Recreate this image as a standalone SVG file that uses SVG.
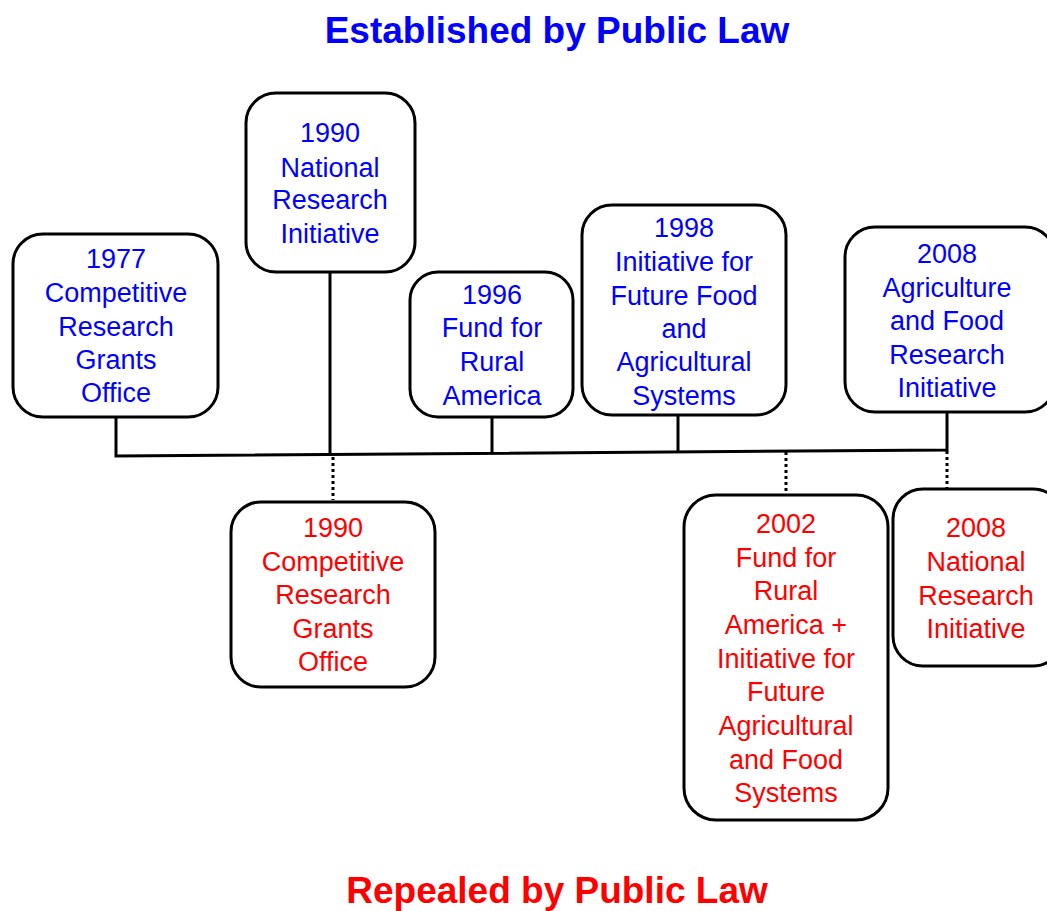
<svg xmlns="http://www.w3.org/2000/svg" width="1047" height="911" viewBox="0 0 1047 911">
<style>
.box{fill:#fff;stroke:#000;stroke-width:3}
.t{font-family:"Liberation Sans",Arial,sans-serif;font-size:27px;text-anchor:middle}
.blue{fill:#0000ff}
.red{fill:#ff0000}
.title{font-family:"Liberation Sans",Arial,sans-serif;font-size:37px;font-weight:bold;text-anchor:middle}
.solid{stroke:#000;stroke-width:3;fill:none}
.dot{stroke:#000;stroke-width:3;fill:none;stroke-dasharray:3 3}
</style>
<rect width="1047" height="911" fill="#fff"/>
<text class="title blue" x="557" y="43">Established by Public Law</text>
<text class="title red" x="557" y="903">Repealed by Public Law</text>
<g id="connectors">
<path class="solid" d="M116,417 V456 L947,450 V412"/>
<path class="solid" d="M330,272 V455"/>
<path class="solid" d="M492,417 V454"/>
<path class="solid" d="M678,415 V453"/>
<path class="dot" d="M333,457 V500"/>
<path class="dot" d="M786,452 V494"/>
<path class="dot" d="M947,451 V488"/>
</g>
<g id="n1977">
<rect class="box" x="13" y="234" width="205" height="183" rx="30"/>
<text class="t blue"><tspan x="116" y="268">1977</tspan><tspan x="116" y="302">Competitive</tspan><tspan x="116" y="336">Research</tspan><tspan x="116" y="369">Grants</tspan><tspan x="116" y="402">Office</tspan></text>
</g>
<g id="n1990nri">
<rect class="box" x="246" y="93" width="169" height="179" rx="30"/>
<text class="t blue"><tspan x="330" y="142">1990</tspan><tspan x="330" y="177">National</tspan><tspan x="330" y="209">Research</tspan><tspan x="330" y="243">Initiative</tspan></text>
</g>
<g id="n1996">
<rect class="box" x="410" y="272" width="163" height="145" rx="28"/>
<text class="t blue"><tspan x="492" y="304">1996</tspan><tspan x="492" y="337">Fund for</tspan><tspan x="492" y="371">Rural</tspan><tspan x="492" y="405">America</tspan></text>
</g>
<g id="n1998">
<rect class="box" x="582" y="205" width="204" height="210" rx="30"/>
<text class="t blue"><tspan x="684" y="237">1998</tspan><tspan x="684" y="271">Initiative for</tspan><tspan x="684" y="305">Future Food</tspan><tspan x="684" y="338">and</tspan><tspan x="684" y="371">Agricultural</tspan><tspan x="684" y="405">Systems</tspan></text>
</g>
<g id="n2008afri">
<rect class="box" x="845" y="227" width="210" height="185" rx="30"/>
<text class="t blue"><tspan x="947" y="263">2008</tspan><tspan x="947" y="297">Agriculture</tspan><tspan x="947" y="330">and Food</tspan><tspan x="947" y="364">Research</tspan><tspan x="947" y="397">Initiative</tspan></text>
</g>
<g id="n1990crgo">
<rect class="box" x="231" y="502" width="204" height="185" rx="30"/>
<text class="t red"><tspan x="333" y="537">1990</tspan><tspan x="333" y="571">Competitive</tspan><tspan x="333" y="604">Research</tspan><tspan x="333" y="638">Grants</tspan><tspan x="333" y="671">Office</tspan></text>
</g>
<g id="n2002">
<rect class="box" x="684" y="495" width="204" height="325" rx="32"/>
<text class="t red"><tspan x="786" y="533">2002</tspan><tspan x="786" y="567">Fund for</tspan><tspan x="786" y="600">Rural</tspan><tspan x="786" y="634">America +</tspan><tspan x="786" y="668">Initiative for</tspan><tspan x="786" y="701">Future</tspan><tspan x="786" y="735">Agricultural</tspan><tspan x="786" y="769">and Food</tspan><tspan x="786" y="802">Systems</tspan></text>
</g>
<g id="n2008nri">
<rect class="box" x="893" y="489" width="170" height="177" rx="30"/>
<text class="t red"><tspan x="976" y="537">2008</tspan><tspan x="976" y="571">National</tspan><tspan x="976" y="605">Research</tspan><tspan x="976" y="638">Initiative</tspan></text>
</g>
</svg>
